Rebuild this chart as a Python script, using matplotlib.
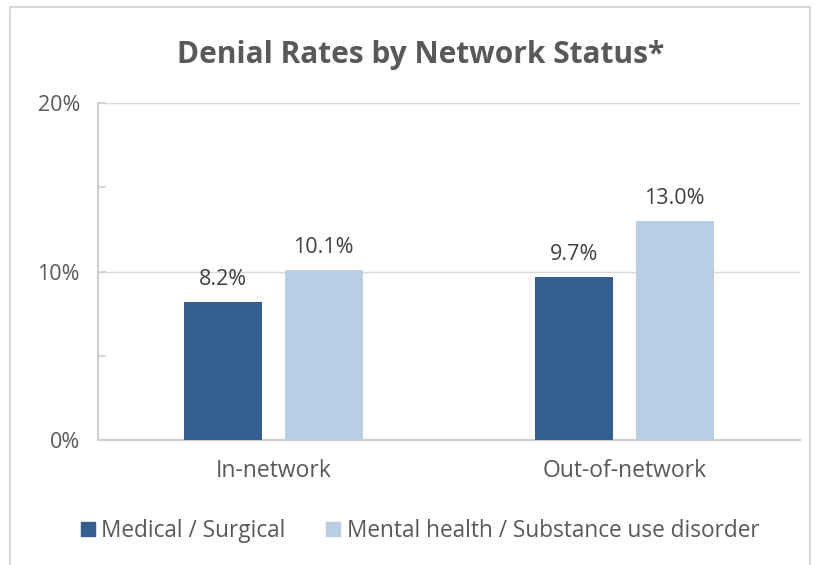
import numpy as np
import matplotlib
matplotlib.use('Agg')
import matplotlib.pyplot as plt
from matplotlib.patches import Rectangle

plt.rcParams['font.family'] = ['Open Sans', 'DejaVu Sans']

categories = ['In-network', 'Out-of-network']
series_names = ['Medical / Surgical', 'Mental health / Substance use disorder']
medical = [8.2, 9.7]
mental = [10.1, 13.0]
colors = ['#365F91', '#B9CDE5']
text_col = '#595959'

fig = plt.figure(figsize=(8.16, 5.65), dpi=100)
ax = fig.add_axes([98/816, 1 - 440/565, 702/816, 337/565])

x = np.arange(len(categories))
w = 0.222
off = 0.143
for vals, dx, c in [(medical, -off, colors[0]), (mental, off, colors[1])]:
    bars = ax.bar(x + dx, vals, width=w, color=c, zorder=3)
    for b, v in zip(bars, vals):
        ax.text(b.get_x() + b.get_width()/2, v + 0.7, '{:.1f}%'.format(v),
                ha='center', va='bottom', fontsize=15.5, color='#404040')

ax.set_xlim(-0.5, 1.5)
ax.set_ylim(0, 20)
ax.set_yticks([0, 10, 20])
ax.set_yticklabels(['0%', '10%', '20%'])
ax.set_yticks([5, 15], minor=True)
ax.set_xticks(x)
ax.set_xticklabels(categories)
ax.tick_params(axis='y', which='both', direction='in', length=6, width=1.2,
               color='#D0D0D0', labelsize=15.5, labelcolor=text_col, pad=13)
ax.tick_params(axis='x', length=0, labelsize=16.5, labelcolor=text_col, pad=14)
ax.grid(axis='y', which='major', color='#D9D9D9', lw=1, zorder=0)
for s in ['top', 'right']:
    ax.spines[s].set_visible(False)
for s in ['left', 'bottom']:
    ax.spines[s].set_color('#D0D0D0')
    ax.spines[s].set_linewidth(1.5)

fig.text(0.515, 1 - 55/565, 'Denial Rates by Network Status*', ha='center', va='center',
         fontsize=21.5, fontweight='bold', color=text_col)

handles = [Rectangle((0, 0), 1, 1, color=c) for c in colors]
fig.legend(handles, series_names, loc='center', bbox_to_anchor=(0.515, 1 - 531/565),
           ncol=2, frameon=False, fontsize=16.3, labelcolor=text_col,
           handlelength=0.6, handleheight=0.6, handletextpad=0.3, columnspacing=1.8)

fig.add_artist(Rectangle((10/816, -0.02), 800/816, 1.02 - 7/565, transform=fig.transFigure,
                         fill=False, edgecolor='#D9D9D9', lw=1.5))

fig.savefig('out.png', dpi=100)
